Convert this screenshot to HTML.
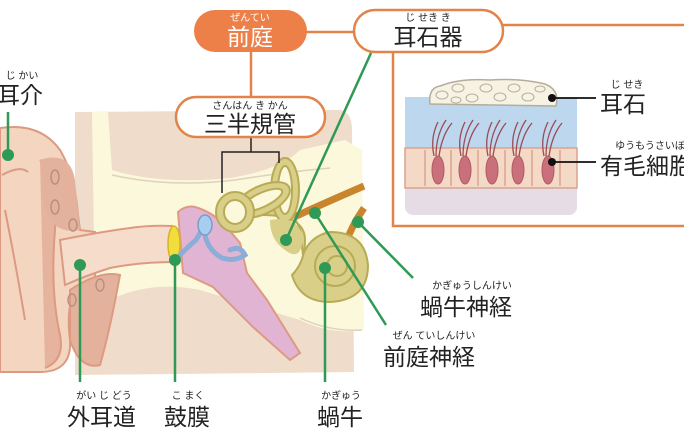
<!DOCTYPE html>
<html><head><meta charset="utf-8"><style>
html,body{margin:0;padding:0;background:#fff;}
body{width:684px;height:441px;overflow:hidden;position:relative;font-family:"Liberation Sans","Noto Sans CJK JP",sans-serif;}
svg{position:absolute;left:0;top:0;}
</style></head><body>
<svg width="684" height="441" viewBox="0 0 684 441" xmlns="http://www.w3.org/2000/svg" font-family="Liberation Sans, Noto Sans CJK JP, sans-serif">
<!-- background head area -->
<path d="M75 112 L340 110 Q352 112 352 130 L354 372 L75 375 Z" fill="#efdccb"/>
<!-- cream bone region -->
<path d="M92 112 L108 112 L112 170 Q160 185 230 178 Q280 170 300 150 L345 140 L362 150 L364 330 Q330 335 300 320 L200 290 Q150 280 110 300 L95 310 Z" fill="#fcf8dc"/>
<path d="M112 175 Q170 188 235 180 Q285 172 330 168" fill="none" stroke="#dcd2bd" stroke-width="1.5"/>
<path d="M300 318 Q330 332 362 330" fill="none" stroke="#dcd2bd" stroke-width="1.5"/>
<!-- pinna -->
<path d="M0 128 Q40 122 60 150 Q75 175 78 215 L80 230 L95 232 L95 280 L80 285 Q65 300 70 340 Q72 372 40 372 L0 372 Z" fill="#f3d5c0" stroke="#dd9a82" stroke-width="2"/>
<path d="M40 160 Q60 180 55 230 Q50 290 60 335 Q65 360 45 368" fill="#e6b49e" stroke="#dd9a82" stroke-width="2"/>
<path d="M2 175 Q20 165 28 172" fill="none" stroke="#dd9a82" stroke-width="2"/>
<path d="M5 210 Q15 260 25 320" fill="none" stroke="#dd9a82" stroke-width="2"/>
<path d="M40 160 Q70 150 75 180 L80 230 Q55 235 45 210 Z" fill="#e4b29c"/>
<path d="M70 290 Q100 270 120 275 Q110 330 100 365 Q80 370 70 340 Z" fill="#e4b29c" stroke="#dd9a82" stroke-width="2"/>
<ellipse cx="55" cy="177" rx="4" ry="7" fill="none" stroke="#b88f80" stroke-width="1.5"/>
<ellipse cx="55" cy="207" rx="4" ry="7" fill="none" stroke="#b88f80" stroke-width="1.5"/>
<ellipse cx="73" cy="225" rx="4" ry="6" fill="none" stroke="#b88f80" stroke-width="1.5"/>
<ellipse cx="100" cy="285" rx="4" ry="6" fill="none" stroke="#b88f80" stroke-width="1.5"/>
<ellipse cx="72" cy="300" rx="4" ry="6" fill="none" stroke="#b88f80" stroke-width="1.5"/>
<!-- ear canal -->
<path d="M60 240 Q100 232 130 228 Q150 225 172 226 L175 262 Q140 262 110 268 Q85 276 65 285 Z" fill="#f6dccb" stroke="#dd9a82" stroke-width="2"/>
<!-- middle ear pink -->
<path d="M178 212 Q186 205 195 207 Q212 212 225 225 L240 243 L247 273 L267 300 L300 353 L290 360 L253 327 L213 287 L183 273 Z" fill="#e2b4d3" stroke="#dd9a82" stroke-width="2"/>
<!-- eardrum -->
<ellipse cx="174" cy="244" rx="6" ry="18" fill="#f2de3a" stroke="#d6b22c" stroke-width="1.5"/>
<!-- ossicles -->
<path d="M180 255 Q190 245 196 240 Q202 230 205 222 M205 235 Q208 250 222 258 Q235 262 245 255 Q240 245 230 250" fill="none" stroke="#8aaed8" stroke-width="5" stroke-linecap="round"/>
<ellipse cx="205" cy="225" rx="7" ry="10" fill="#a9cdee" stroke="#7a9dc8" stroke-width="1.5"/>
<!-- nerves -->
<path d="M292 218 Q320 205 364 186" fill="none" stroke="#c9852e" stroke-width="7"/>
<path d="M345 245 Q352 225 364 208" fill="none" stroke="#c9852e" stroke-width="7"/>
<!-- inner ear -->
<g fill="none" stroke="#b8ab55" stroke-width="2">
<path d="M262 215 Q305 215 305 240 Q305 262 292 275 Q300 302 330 302 Q368 300 368 265 Q365 232 330 232 Q310 236 303 255 L300 230 Q290 200 262 200 Z" fill="#d9cf88"/>
<ellipse cx="285" cy="190" rx="14" ry="32" fill="#d9cf88"/>
<ellipse cx="285" cy="190" rx="7" ry="24" fill="#fcf8dc"/>
<ellipse cx="262" cy="200" rx="30" ry="14" fill="#d9cf88" transform="rotate(-25 262 200)"/>
<ellipse cx="262" cy="200" rx="22" ry="7" fill="#fcf8dc" transform="rotate(-25 262 200)"/>
<ellipse cx="235" cy="212" rx="19" ry="20" fill="#d9cf88"/>
<ellipse cx="235" cy="212" rx="11" ry="12" fill="#fcf8dc"/>
<path d="M270 220 Q300 215 303 240 Q300 262 285 250 Q270 240 270 220 Z" fill="#d9cf88" stroke="none"/>
<circle cx="335" cy="266" r="20"/>
<circle cx="337" cy="266" r="10"/>
</g>
<!-- bracket -->
<path d="M251 137 L251 152 M222 193 L222 152 L279 152 L279 163" fill="none" stroke="#222" stroke-width="1.5"/>
<!-- orange structure -->
<g stroke="#e2834a" stroke-width="2.5" fill="none">
<line x1="300" y1="32" x2="356" y2="32"/>
<line x1="503" y1="25" x2="684" y2="25"/>
<line x1="251" y1="52" x2="251" y2="98"/>
<path d="M393 52 L393 226 L684 226"/>
</g>
<rect x="194" y="10" width="113" height="42" rx="21" fill="#ec8048"/>
<rect x="354" y="10" width="149" height="42" rx="21" fill="#fff" stroke="#e2834a" stroke-width="2.5"/>
<rect x="176" y="97" width="149" height="40" rx="20" fill="#fff" stroke="#e2834a" stroke-width="2.5"/>
<!-- otolith illustration -->
<rect x="405" y="97" width="172" height="118" rx="8" fill="#e6dce6"/>
<rect x="405" y="97" width="172" height="52" fill="#bcd7ee"/>
<rect x="405" y="148" width="172" height="40" fill="#f4dac6" stroke="#d9a38d" stroke-width="1.5"/>
<g fill="none" stroke="#d9a38d" stroke-width="1.5">
<path d="M425 150v36M451 150v36M478 150v36M505 150v36M532 150v36M560 150v36"/>
</g>
<g fill="#c9707a" stroke="#b05a66" stroke-width="1">
<ellipse cx="438" cy="170" rx="6" ry="14"/><ellipse cx="465" cy="170" rx="6" ry="14"/><ellipse cx="492" cy="170" rx="6" ry="14"/><ellipse cx="518" cy="170" rx="6" ry="14"/><ellipse cx="548" cy="170" rx="6" ry="14"/>
</g>
<g stroke="#9b4a56" stroke-width="1.3" fill="none">
<path d="M436 156 Q436 135 446 120 M439 156 Q442 135 452 123 M434 156 Q430 138 438 122"/>
<path d="M463 156 Q463 135 473 120 M466 156 Q469 135 479 123 M461 156 Q457 138 465 122"/>
<path d="M490 156 Q490 135 500 120 M493 156 Q496 135 506 123 M488 156 Q484 138 492 122"/>
<path d="M516 156 Q516 135 526 120 M519 156 Q522 135 532 123 M514 156 Q510 138 518 122"/>
<path d="M546 156 Q546 135 556 120 M549 156 Q552 135 562 123 M544 156 Q540 138 548 122"/>
</g>
<path d="M430 104 Q428 88 440 86 Q460 78 490 80 Q520 78 545 84 Q560 90 556 106 Z" fill="#f6f2e4" stroke="#b5ad9a" stroke-width="1.5"/>
<g fill="none" stroke="#b5ad9a" stroke-width="1"><ellipse cx="442" cy="95" rx="6" ry="4"/><ellipse cx="458" cy="88" rx="6" ry="4"/><ellipse cx="472" cy="98" rx="6" ry="4"/><ellipse cx="486" cy="88" rx="6" ry="4"/><ellipse cx="500" cy="97" rx="6" ry="4"/><ellipse cx="514" cy="88" rx="6" ry="4"/><ellipse cx="528" cy="97" rx="6" ry="4"/><ellipse cx="540" cy="89" rx="5" ry="3"/><ellipse cx="456" cy="100" rx="5" ry="3"/></g>
<g stroke="#111" stroke-width="1.8"><line x1="552" y1="98" x2="596" y2="98"/><line x1="552" y1="162" x2="596" y2="162"/></g>
<circle cx="552" cy="98" r="4" fill="#111"/><circle cx="552" cy="162" r="4" fill="#111"/>
<!-- green leaders -->
<g stroke="#2f9a55" stroke-width="2.5" fill="none">
<line x1="8" y1="112" x2="8" y2="155"/>
<line x1="80" y1="265" x2="80" y2="382"/>
<line x1="175" y1="260" x2="175" y2="382"/>
<line x1="325" y1="268" x2="325" y2="382"/>
<line x1="358" y1="222" x2="413" y2="278"/>
<line x1="315" y1="213" x2="386" y2="325"/>
<line x1="371" y1="53" x2="286" y2="240"/>
</g>
<g fill="#2f9a55"><circle cx="8" cy="155" r="6"/><circle cx="80" cy="265" r="6"/><circle cx="175" cy="260" r="6"/><circle cx="325" cy="268" r="6"/><circle cx="358" cy="222" r="6"/><circle cx="315" cy="213" r="6"/><circle cx="286" cy="240" r="6"/></g>
<!-- text -->
<g font-size="10" fill="#222" text-anchor="middle">
<text x="250" y="21" fill="#fff">ぜんてい</text>
<text x="428" y="21">じ せき き</text>
<text x="250" y="109">さんはん き かん</text>
<text x="22" y="79">じ かい</text>
<text x="104" y="399">がい じ どう</text>
<text x="188" y="399">こ まく</text>
<text x="341" y="399">かぎゅう</text>
<text x="472" y="289">かぎゅうしんけい</text>
<text x="434" y="339">ぜん ていしんけい</text>
<text x="627" y="88">じ せき</text>
<text x="655" y="149">ゆうもうさいぼう</text>
</g>
<g font-size="23" fill="#222">
<text x="250" y="45" fill="#fff" text-anchor="middle">前庭</text>
<text x="428" y="45" text-anchor="middle">耳石器</text>
<text x="250" y="132" text-anchor="middle">三半規管</text>
<text x="-3" y="103">耳介</text>
<text x="67" y="425">外耳道</text>
<text x="164" y="425">鼓膜</text>
<text x="317" y="425">蝸牛</text>
<text x="420" y="315">蝸牛神経</text>
<text x="383" y="365">前庭神経</text>
<text x="600" y="112">耳石</text>
<text x="600" y="174">有毛細胞</text>
</g>
</svg>
</body></html>
